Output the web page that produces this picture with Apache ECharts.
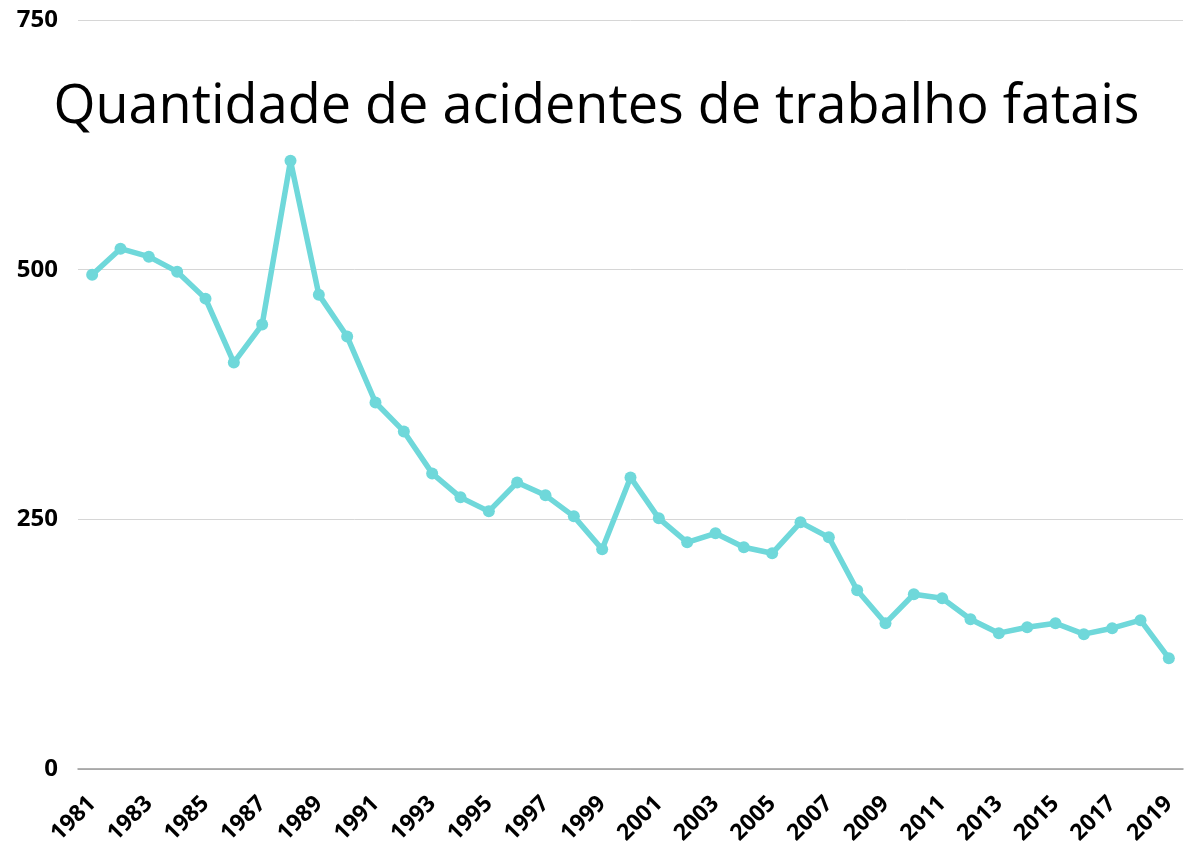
<!DOCTYPE html>
<html>
<head>
  <meta charset="utf-8">
  <title>Acidentes de trabalho fatais</title>
  <script src="https://fastly.jsdelivr.net/npm/echarts@6/dist/echarts.min.js"></script>
</head>
<body style="margin:0;background:#fff">
<div id="main" style="width:1193px;height:857px;"></div>
<script type="text/javascript">
  // anos e quantidade de acidentes fatais
  var anos = ['1981','1982','1983','1984','1985','1986','1987','1988','1989','1990',
    '1991','1992','1993','1994','1995','1996','1997','1998','1999','2000',
    '2001','2002','2003','2004','2005','2006','2007','2008','2009','2010',
    '2011','2012','2013','2014','2015','2016','2017','2018','2019'];
  var acidentes = [495, 521, 513, 498, 471, 407, 445, 609, 475, 433,
    367, 338, 296, 272, 258, 287, 274, 253, 220, 292,
    251, 227, 236, 222, 216, 247, 232, 179, 146, 175,
    171, 150, 136, 142, 146, 135, 141, 149, 111];
  var yTicks = [0, 250, 500, 750];

  var myChart = echarts.init(document.getElementById('main'));
  var option = {
    backgroundColor: '#fff',
    title: {
      text: 'Quantidade de acidentes de trabalho fatais',
      left: 'center',
      top: 76,
      textStyle: {
        fontFamily: 'Open Sans',
        fontWeight: 'normal',
        fontSize: 54,
        color: '#000'
      }
    },
    grid: {
      left: 78,
      right: 10,
      top: 20,
      bottom: 88
    },
    xAxis: {
      type: 'category',
      data: anos,
      boundaryGap: true,
      axisLine: { lineStyle: { color: '#999', width: 1.5 } },
      axisTick: { show: false },
      axisLabel: {
        interval: 1,
        rotate: 45,
        margin: 31,
        color: '#000',
        fontFamily: 'Open Sans',
        fontWeight: 'bold',
        fontSize: 23
      }
    },
    yAxis: {
      type: 'value',
      min: yTicks[0],
      max: yTicks[yTicks.length - 1],
      interval: 250,
      axisLine: { show: false },
      axisTick: { show: false },
      splitLine: { lineStyle: { color: '#d6d6d6', width: 1 } },
      axisLabel: {
        margin: 20,
        color: '#000',
        fontFamily: 'Open Sans',
        fontWeight: 'bold',
        fontSize: 24
      }
    },
    series: [
      {
        type: 'line',
        data: acidentes,
        symbol: 'circle',
        symbolSize: 12,
        lineStyle: { color: '#6fd8da', width: 5.5 },
        itemStyle: { color: '#6fd8da' },
        animation: false
      }
    ]
  };
  option && myChart.setOption(option);
</script>
</body>
</html>
